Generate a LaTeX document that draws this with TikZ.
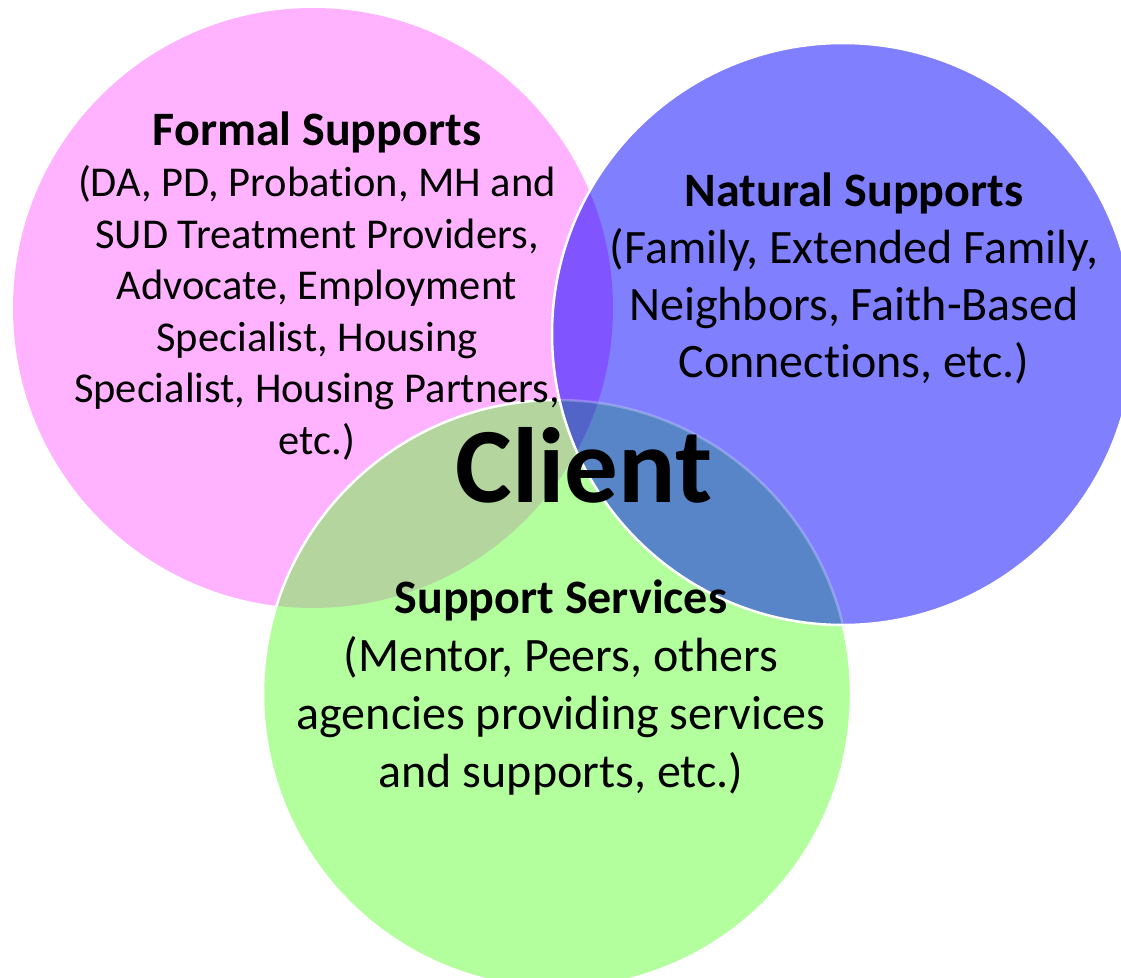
\documentclass[tikz,border=0pt]{standalone}
\usepackage{fontspec}
\setmainfont{Carlito}[Ligatures=NoCommon]
\definecolor{pinkc}{HTML}{FFB3FF}
\definecolor{bluec}{HTML}{8080FF}
\definecolor{greenc}{HTML}{B3FF9E}
\definecolor{purplec}{HTML}{8054FF}
\definecolor{olivec}{HTML}{B4D69E}
\definecolor{bgc}{HTML}{5885C8}
\definecolor{triplec}{HTML}{5264C8}
\newcommand{\ttl}[1]{{\fontsize{48}{51.5}\selectfont\bfseries #1}}
\tikzset{
  rim/.style={draw=white, line width=2.5pt},
  bodytext/.style={align=center, text=black, inner sep=0pt}
}
\begin{document}
\begin{tikzpicture}[x=1pt,y=-1pt]
\useasboundingbox (0,0) rectangle (1121,977);
% pink and green
\fill[pinkc] (313,308) circle[radius=300pt];
\fill[greenc] (557,694) circle[radius=294pt];
\begin{scope}
  \clip (313,308) circle[radius=300pt];
  \fill[olivec] (557,694) circle[radius=294pt];
\end{scope}
\draw[rim] (557,694) circle[radius=294pt];
% everything inside blue
\begin{scope}
  \clip (843,334) circle[radius=291pt];
  \fill[bluec] (843,334) circle[radius=291pt];
  \fill[bgc] (557,694) circle[radius=294pt];
  \begin{scope}
    \clip (313,308) circle[radius=300pt];
    \fill[purplec] (843,334) circle[radius=291pt];
    \clip (557,694) circle[radius=294pt];
    \fill[triplec] (557,694) circle[radius=294pt];
  \end{scope}
  \draw[rim, opacity=0.25] (557,694) circle[radius=294pt];
\end{scope}
% blue rim
\draw[rim] (843,334) circle[radius=291pt];
% texts
\node[bodytext, font=\fontsize{42.5}{51.5}\selectfont] (formal) at (317,286)
  {\ttl{Formal Supports}\\(DA, PD, Probation, MH and\\SUD Treatment Providers,\\Advocate, Employment\\Specialist, Housing\\Specialist, Housing Partners,\\etc.)};
\node[bodytext, font=\fontsize{48}{57}\selectfont] (natural) at (854,278)
  {\ttl{Natural Supports}\\(Family, Extended Family,\\Neighbors, Faith-Based\\Connections, etc.)};
\node[bodytext, font=\fontsize{48}{58}\selectfont] (services) at (561,688)
  {\ttl{Support Services}\\(Mentor, Peers, others\\agencies providing services\\and supports, etc.)};
\node[bodytext, font=\fontsize{107}{120}\selectfont\bfseries] (client) at (584,465) {Client};
\end{tikzpicture}
\end{document}
